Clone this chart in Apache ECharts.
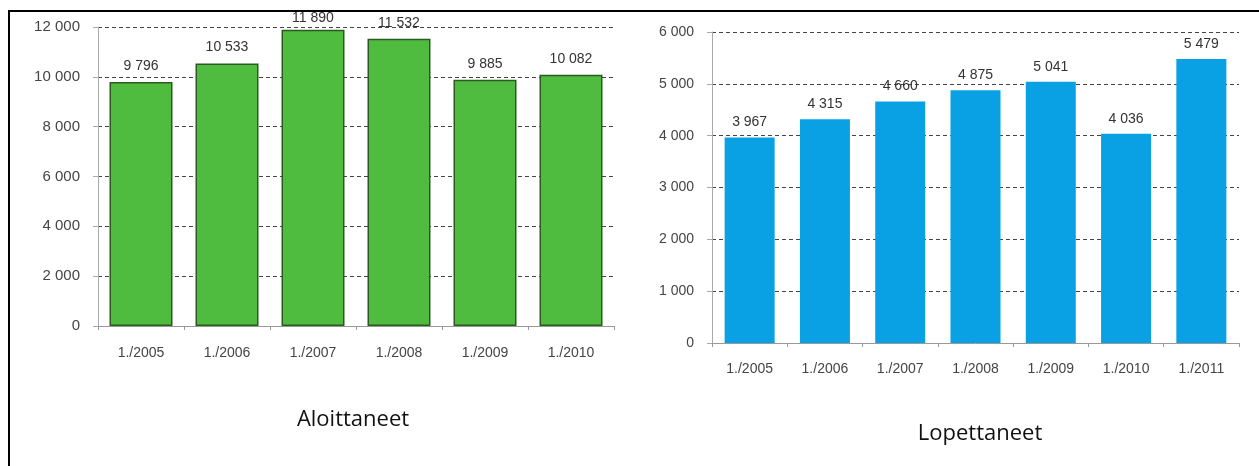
<!DOCTYPE html>
<html>
<head>
<meta charset="utf-8">
<script src="https://cdn.jsdelivr.net/npm/echarts@6/dist/echarts.min.js"></script>
<style>
  html, body { margin: 0; padding: 0; background: #fff; }
  #frame { position: absolute; left: 8px; top: 10px; width: 1251px; height: 456px;
           border-top: 2px solid #000; border-left: 2px solid #000; box-sizing: border-box; }
  #chart { position: absolute; left: 0; top: 0; width: 1259px; height: 466px; }
</style>
</head>
<body>
<div id="frame"></div>
<div id="chart"></div>
<script>
// Aloittaneet (left)
var startCats = ['1./2005', '1./2006', '1./2007', '1./2008', '1./2009', '1./2010'];
var startVals = [9796, 10533, 11890, 11532, 9885, 10082];
// Lopettaneet (right)
var endCats = ['1./2005', '1./2006', '1./2007', '1./2008', '1./2009', '1./2010', '1./2011'];
var endVals = [3967, 4315, 4660, 4875, 5041, 4036, 5479];

function spaced(v) {
    return String(v).replace(/\B(?=(\d{3})+(?!\d))/g, ' ');
}

window.onload = function() {
    var chart = echarts.init(document.getElementById('chart'));
    var font = 'Liberation Sans, Arial, sans-serif';
    var gridDash = { color: '#444', width: 1, type: [4, 3] };

    function yAxis(idx, max, step, size) {
        return {
            type: 'value', gridIndex: idx, min: 0, max: max, interval: step,
            axisLine: { show: true, lineStyle: { color: '#aaa' } },
            axisTick: { show: true, length: 5, lineStyle: { color: '#aaa' } },
            axisLabel: { margin: 18, color: '#444', fontSize: size, fontFamily: font, formatter: spaced },
            splitLine: { show: true, lineStyle: gridDash }
        };
    }
    function xAxis(idx, cats, margin) {
        return {
            type: 'category', gridIndex: idx, data: cats,
            axisLine: { lineStyle: { color: '#999' } },
            axisTick: { show: true, length: 4, lineStyle: { color: '#999' } },
            axisLabel: { margin: margin, color: '#444', fontSize: 14, fontFamily: font }
        };
    }

    chart.setOption({
        animation: false,
        title: [{
            text: 'Aloittaneet', left: 348, top: 404, textAlign: 'center',
            textStyle: { fontFamily: 'Open Sans', fontWeight: 'normal', fontSize: 22, color: '#111' }
        }, {
            text: 'Lopettaneet', left: 975, top: 418, textAlign: 'center',
            textStyle: { fontFamily: 'Open Sans', fontWeight: 'normal', fontSize: 22, color: '#111' }
        }],
        grid: [
            { left: 98, top: 27, width: 516, height: 299 },
            { left: 712, top: 32, width: 527, height: 311 }
        ],
        xAxis: [xAxis(0, startCats, 20), xAxis(1, endCats, 19)],
        yAxis: [yAxis(0, 12000, 2000, 15), yAxis(1, 6000, 1000, 14)],
        series: [{
            type: 'bar', xAxisIndex: 0, yAxisIndex: 0, data: startVals,
            barWidth: 63,
            itemStyle: { color: '#4fbc3f', borderColor: '#2b5a20', borderWidth: 1.5 },
            label: {
                show: true, position: 'top', distance: 9, color: '#333',
                fontSize: 14, fontFamily: font,
                formatter: function(p) { return spaced(p.value); }
            },
            // keep labels of tall bars inside the top of the picture
            labelLayout: function(params) {
                var top = 11;
                return { dy: Math.max(0, top - params.labelRect.y) };
            }
        }, {
            type: 'bar', xAxisIndex: 1, yAxisIndex: 1, data: endVals,
            barWidth: 50,
            itemStyle: { color: '#0aa1e4' },
            label: {
                show: true, position: 'top', distance: 8, color: '#333',
                fontSize: 14, fontFamily: font,
                formatter: function(p) { return spaced(p.value); }
            }
        }]
    });
};
</script>
</body>
</html>
